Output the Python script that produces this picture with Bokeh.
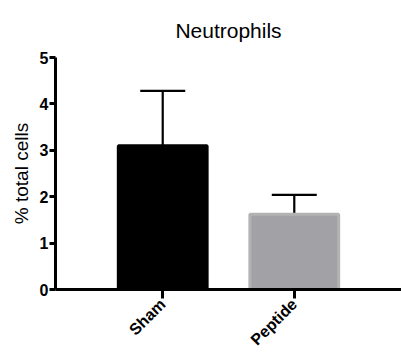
from bokeh.plotting import figure
from bokeh.models import ColumnDataSource, FactorRange, Range1d, Whisker, TeeHead, FixedTicker
from bokeh.embed import file_html
from bokeh.resources import INLINE
import math

categories = ["Sham", "Peptide"]
means = [3.10, 1.62]
errors = [1.18, 0.42]
fills = ["#000000", "#a2a2a6"]
outlines = ["#000000", "#b3b3b3"]
y_ticks = [0, 1, 2, 3, 4, 5]

upper = [m + e for m, e in zip(means, errors)]
src = ColumnDataSource(dict(cat=categories, mean=means, upper=upper, fill=fills, line=outlines))

p = figure(width=401, height=358, output_backend="svg", toolbar_location=None,
           x_range=FactorRange(*categories, range_padding=0.315),
           y_range=Range1d(0, 5),
           title="Neutrophils")
p.min_border_left = 55
p.min_border_right = 0
p.min_border_top = 57
p.min_border_bottom = 69
p.outline_line_color = None
p.grid.visible = False
p.background_fill_color = "white"
p.border_fill_color = "white"

p.title.align = "center"
p.title.text_font = "Liberation Sans"
p.title.text_font_style = "normal"
p.title.text_font_size = "21px"
p.title.text_color = "black"
p.title.standoff = 32
p.title.offset = 0

p.vbar(x="cat", top="mean", width=0.675, bottom=0, source=src,
       fill_color="fill", line_color="line", line_width=3)

w = Whisker(base="cat", lower="mean", upper="upper", source=src, dimension="height",
            line_color="black", line_width=2.2,
            upper_head=TeeHead(size=45, line_color="black", line_width=2.2),
            lower_head=None)
p.add_layout(w)

# y axis
ya = p.yaxis[0]
ya.ticker = FixedTicker(ticks=y_ticks)
ya.axis_label = "% total cells"
ya.axis_label_text_font = "Liberation Sans"
ya.axis_label_text_font_style = "normal"
ya.axis_label_text_font_size = "19px"
ya.axis_label_text_color = "black"
ya.axis_label_standoff = 5
ya.axis_line_width = 3
ya.major_tick_line_width = 3
ya.major_tick_out = 6
ya.major_tick_in = 0
ya.minor_tick_line_color = None
ya.major_label_text_font = "Liberation Sans"
ya.major_label_text_font_style = "bold"
ya.major_label_text_font_size = "16px"
ya.major_label_text_color = "black"
ya.major_label_standoff = 1

# x axis
xa = p.xaxis[0]
xa.axis_line_width = 3
xa.major_tick_line_width = 3
xa.major_tick_out = 9
xa.major_tick_in = 0
xa.minor_tick_line_color = None
xa.major_label_orientation = math.pi / 4
xa.major_label_text_font = "Liberation Sans"
xa.major_label_text_font_style = "bold"
xa.major_label_text_font_size = "16px"
xa.major_label_text_color = "black"
xa.major_label_standoff = 3

open("out.html", "w").write(file_html(p, INLINE))
